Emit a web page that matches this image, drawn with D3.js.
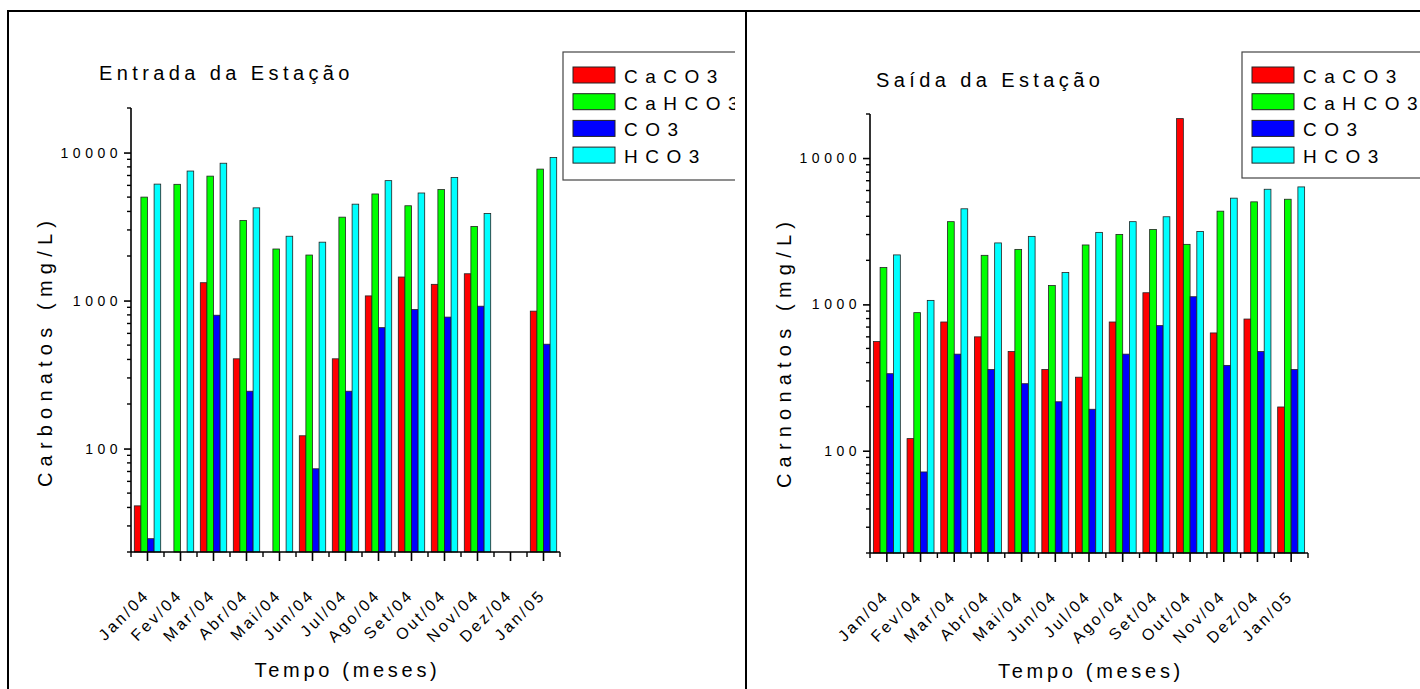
<!DOCTYPE html>
<html>
<head>
<meta charset="utf-8">
<script src="https://cdn.jsdelivr.net/npm/d3@7"></script>
<style>
  html, body { margin: 0; padding: 0; background: #fff; }
  svg { display: block; font-family: "Liberation Sans", Arial, sans-serif; }
</style>
</head>
<body>
<svg id="chart" width="1420" height="689"></svg>
<script>
// ---- data ----
const months = ["Jan/04","Fev/04","Mar/04","Abr/04","Mai/04","Jun/04","Jul/04","Ago/04","Set/04","Out/04","Nov/04","Dez/04","Jan/05"];
const seriesNames = ["CaCO3","CaHCO3","CO3","HCO3"];
const seriesColors = ["#ff0000","#00ff00","#0000ff","#00ffff"];
const yTickValues = [100, 1000, 10000];

const entradaCaCO3  = [41, null, 1320, 404, null, 122, 404, 1075, 1442, 1287, 1517, null, 848];
const entradaCaHCO3 = [5000, 6100, 6930, 3480, 2230, 2030, 3660, 5250, 4370, 5620, 3170, null, 7730];
const entradaCO3    = [24.6, null, 796, 244, null, 73, 244, 656, 870, 773, 916, null, 507];
const entradaHCO3   = [6120, 7500, 8470, 4230, 2720, 2480, 4480, 6460, 5330, 6790, 3880, null, 9250];

const saidaCaCO3  = [557, 121, 758, 600, 476, 359, 318, 758, 1201, 18600, 638, 794, 199];
const saidaCaHCO3 = [1786, 878, 3675, 2164, 2376, 1346, 2547, 3008, 3250, 2572, 4335, 5020, 5230];
const saidaCO3    = [336, 71.6, 457, 359, 287, 216, 192, 457, 716, 1128, 383, 476, 359];
const saidaHCO3   = [2178, 1065, 4500, 2630, 2916, 1650, 3105, 3675, 3970, 3152, 5320, 6120, 6350];

// ---- layout ----
const svg = d3.select("#chart");

// table frame
svg.append("line").attr("x1",7).attr("x2",1420).attr("y1",11).attr("y2",11).attr("stroke","#000").attr("stroke-width",2);
svg.append("line").attr("x1",8).attr("x2",8).attr("y1",10).attr("y2",689).attr("stroke","#000").attr("stroke-width",2);
svg.append("line").attr("x1",746).attr("x2",746).attr("y1",10).attr("y2",689).attr("stroke","#000").attr("stroke-width",2);

const panels = [
  { title: "Entrada da Estação", ylabel: "Carbonatos (mg/L)",
    data: [entradaCaCO3, entradaCaHCO3, entradaCO3, entradaHCO3],
    clip: [9, 12, 726, 677],
    x0: 131, x1: 560, yTop: 108, yBot: 552,
    titleX: 99, titleY: 80, ylabX: 52, ylabY: 351,
    legX: 563, legY: 52, legH: 128 },
  { title: "Saída da Estação", ylabel: "Carnonatos (mg/L)",
    data: [saidaCaCO3, saidaCaHCO3, saidaCO3, saidaHCO3],
    clip: [747, 12, 673, 677],
    x0: 870, x1: 1308, yTop: 114, yBot: 553,
    titleX: 876, titleY: 87, ylabX: 791, ylabY: 352,
    legX: 1242, legY: 52, legH: 126 }
];

panels.forEach((p, pi) => {
  const clipId = "clip" + pi;
  svg.append("clipPath").attr("id", clipId).append("rect")
    .attr("x", p.clip[0]).attr("y", p.clip[1]).attr("width", p.clip[2]).attr("height", p.clip[3]);
  const g = svg.append("g").attr("clip-path", `url(#${clipId})`);

  const x = d3.scaleBand().domain(months).range([p.x0, p.x1]).paddingInner(0.2).paddingOuter(0.1);
  const xs = d3.scaleBand().domain(seriesNames).range([0, x.bandwidth()]);
  const y = d3.scaleLog().domain([20, 20000]).range([p.yBot, p.yTop]);

  // bars
  const rows = [];
  months.forEach((m, i) => {
    seriesNames.forEach((s, k) => {
      const v = p.data[k][i];
      if (v != null) rows.push({ m, s, k, v });
    });
  });
  g.append("g").selectAll("rect").data(rows).join("rect")
    .attr("x", d => x(d.m) + xs(d.s))
    .attr("y", d => y(d.v))
    .attr("width", xs.bandwidth())
    .attr("height", d => y(20) - y(d.v))
    .attr("fill", d => seriesColors[d.k])
    .attr("stroke", "#222")
    .attr("stroke-width", 0.8);

  // y axis
  const yAxis = d3.axisLeft(y).tickValues(yTickValues).tickFormat(d3.format("d")).tickSize(7).tickPadding(2);
  const ya = g.append("g").attr("transform", `translate(${p.x0},0)`).call(yAxis);
  ya.select(".domain").attr("stroke","#000").attr("stroke-width",1.6).attr("d", `M0,${p.yTop}V${p.yBot}`);
  ya.selectAll(".tick line").attr("stroke-width",1.6);
  ya.selectAll(".tick text").attr("font-size", 14).attr("letter-spacing", "4.5px")
    .attr("font-family", "Liberation Sans, Arial, sans-serif").attr("fill","#000");
  // minor log ticks
  const minor = [];
  [10, 100, 1000, 10000].forEach(dec => { for (let k = 2; k <= 9; k++) { const v = dec * k; if (v >= 20 && v <= 20000 && !yTickValues.includes(v)) minor.push(v); } });
  g.append("g").selectAll("line").data(minor).join("line")
    .attr("x1", p.x0 - 4).attr("x2", p.x0).attr("y1", d => y(d)).attr("y2", d => y(d))
    .attr("stroke","#000").attr("stroke-width",1.4);

  // x axis
  const xAxis = d3.axisBottom(x).tickSize(9).tickFormat("");
  const xa = g.append("g").attr("transform", `translate(0,${p.yBot})`).call(xAxis);
  xa.select(".domain").attr("stroke","#000").attr("stroke-width",1.6).attr("d", `M${p.x0},0H${p.x1}`);
  xa.selectAll(".tick line").attr("stroke-width",1.6);
  const step = x.step();
  const bounds = d3.range(months.length + 1).map(i => p.x0 + i * step);
  g.append("g").selectAll("line").data(bounds).join("line")
    .attr("x1", d => d).attr("x2", d => d).attr("y1", p.yBot).attr("y2", p.yBot + 5)
    .attr("stroke","#000").attr("stroke-width",1.4);
  // rotated month labels
  g.append("g").selectAll("text").data(months).join("text")
    .attr("transform", d => `translate(${x(d) + x.bandwidth()/2 + 3},${p.yBot + 44}) rotate(-45)`)
    .attr("text-anchor", "end")
    .attr("font-size", 16).attr("letter-spacing", "2.7px")
    .text(d => d);

  // axis titles
  g.append("text").attr("x", (p.x0 + p.x1) / 2 + 2).attr("y", p.yBot + 125)
    .attr("text-anchor","middle").attr("font-size", 20).attr("letter-spacing","3.7px")
    .text("Tempo (meses)");
  g.append("text").attr("transform", `translate(${p.ylabX},${p.ylabY}) rotate(-90)`)
    .attr("text-anchor","middle").attr("font-size", 20).attr("letter-spacing","6.2px")
    .text(p.ylabel);

  // title
  g.append("text").attr("x", p.titleX).attr("y", p.titleY)
    .attr("font-size", 20).attr("letter-spacing","4.4px").text(p.title);

  // legend
  const leg = g.append("g");
  leg.append("rect").attr("x", p.legX).attr("y", p.legY).attr("width", 200).attr("height", p.legH)
    .attr("fill","#fff").attr("stroke","#444").attr("stroke-width",1.2);
  seriesNames.forEach((s, k) => {
    const yy = p.legY + 15 + k * 26.7;
    leg.append("rect").attr("x", p.legX + 10).attr("y", yy).attr("width", 42).attr("height", 16)
      .attr("fill", seriesColors[k]).attr("stroke","#222").attr("stroke-width",1);
    leg.append("text").attr("x", p.legX + 61).attr("y", yy + 16)
      .attr("font-size", 19).attr("letter-spacing","7.5px").text(s);
  });
});
</script>
</body>
</html>
